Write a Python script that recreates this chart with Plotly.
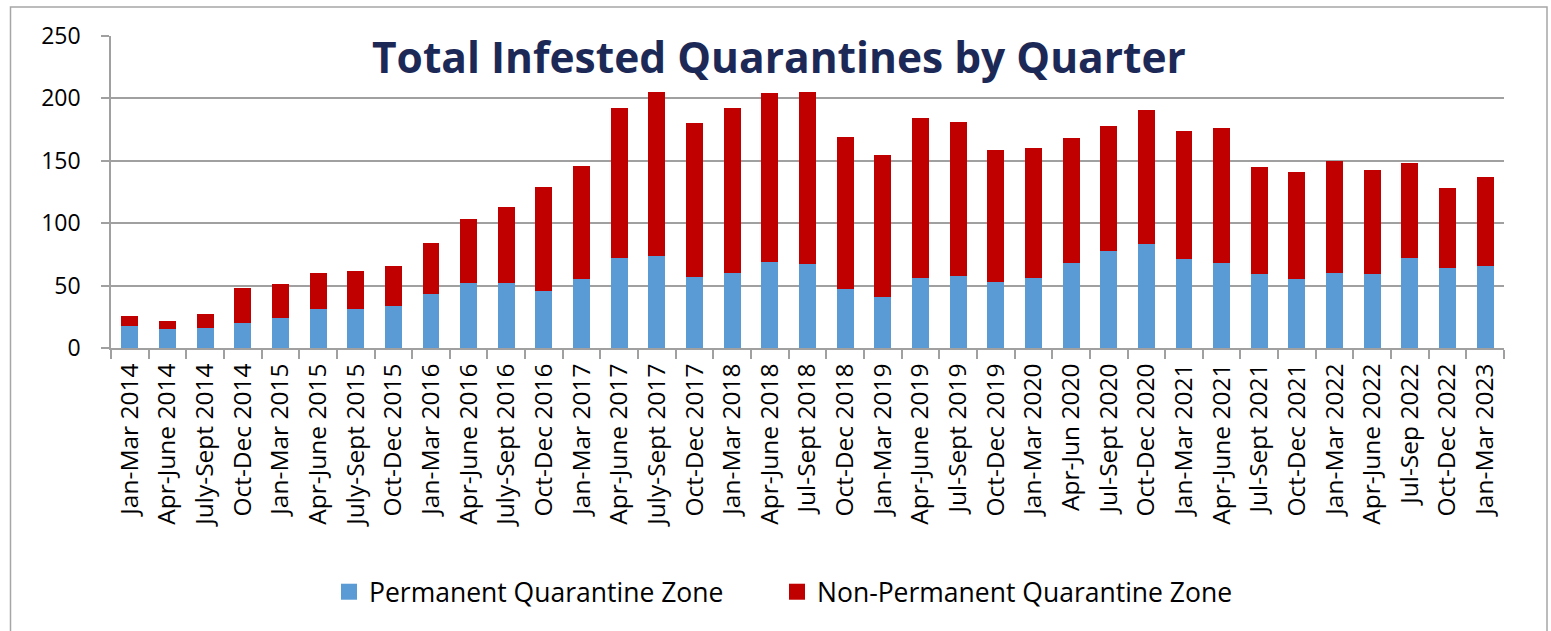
import plotly.graph_objects as go

quarters = ["Jan-Mar 2014", "Apr-June 2014", "July-Sept 2014", "Oct-Dec 2014",
            "Jan-Mar 2015", "Apr-June 2015", "July-Sept 2015", "Oct-Dec 2015",
            "Jan-Mar 2016", "Apr-June 2016", "July-Sept 2016", "Oct-Dec 2016",
            "Jan-Mar 2017", "Apr-June 2017", "July-Sept 2017", "Oct-Dec 2017",
            "Jan-Mar 2018", "Apr-June 2018", "Jul-Sept 2018", "Oct-Dec 2018",
            "Jan-Mar 2019", "Apr-June 2019", "Jul-Sept 2019", "Oct-Dec 2019",
            "Jan-Mar 2020", "Apr-Jun 2020", "Jul-Sept 2020", "Oct-Dec 2020",
            "Jan-Mar 2021", "Apr-June 2021", "Jul-Sept 2021", "Oct-Dec 2021",
            "Jan-Mar 2022", "Apr-June 2022", "Jul-Sep 2022", "Oct-Dec 2022",
            "Jan-Mar 2023"]

permanent = [18, 15, 16, 20, 24, 31, 31, 34, 43, 52, 52, 46, 55, 72, 74, 57, 60, 69, 67,
             47, 41, 56, 58, 53, 56, 68, 78, 83, 71, 68, 59, 55, 60, 59, 72, 64, 66]

non_permanent = [8, 7, 11, 28, 27, 29, 31, 32, 41, 51, 61, 83, 91, 120, 131, 123, 132, 135, 138,
                 122, 114, 128, 123, 106, 104, 100, 100, 108, 103, 108, 86, 86, 90, 84, 76, 64, 71]

y_ticks = [0, 50, 100, 150, 200, 250]

series_names = ["Permanent Quarantine Zone", "Non-Permanent Quarantine Zone"]
blue = "#5b9bd5"
red = "#c00000"

W, H = 1551, 631
# plot area in page coordinates
L, R, T, B = 111, 1504, 36, 348

pw = R - L
ph = B - T


def px_x(x):
    return (x - L) / pw


def px_y(y):
    return (B - y) / ph


fig = go.Figure()
fig.add_trace(go.Bar(x=quarters, y=permanent, name=series_names[0],
                     marker=dict(color=blue, line=dict(width=0)), showlegend=False))
fig.add_trace(go.Bar(x=quarters, y=non_permanent, name=series_names[1],
                     marker=dict(color=red, line=dict(width=0)), showlegend=False))
# legend entries
fig.add_trace(go.Scatter(x=[None], y=[None], mode="markers", name=series_names[0],
                         marker=dict(symbol="square", size=17, color=blue), legend="legend"))
fig.add_trace(go.Scatter(x=[None], y=[None], mode="markers", name=series_names[1],
                         marker=dict(symbol="square", size=17, color=red), legend="legend2"))

legend_style = dict(orientation="h", yanchor="middle", xanchor="left",
                    font=dict(family="Open Sans", size=26.5, color="#000000"),
                    bgcolor="rgba(0,0,0,0)")

fig.update_layout(
    width=W, height=H,
    margin=dict(l=L, r=W - R, t=T, b=H - B, autoexpand=False),
    barmode="stack",
    bargap=0.55,
    paper_bgcolor="white",
    plot_bgcolor="white",
    font=dict(family="Open Sans", size=23, color="#000000"),
    showlegend=True,
    legend=dict(x=px_x(329), y=px_y(592), **legend_style),
    legend2=dict(x=px_x(777), y=px_y(592), **legend_style),
    xaxis=dict(type="category", tickangle=-90, tickson="boundaries", ticks="outside",
               ticklen=9, tickcolor="#a0a0a0", tickwidth=1.5,
               showline=True, linecolor="#a0a0a0", linewidth=1.5,
               showgrid=False, tickfont=dict(family="Open Sans", size=24.5),
               ticklabelstandoff=4,
               range=[-0.5, len(quarters) - 0.5]),
    yaxis=dict(range=[0, 250], tickvals=y_ticks, ticks="outside", ticklen=8,
               tickcolor="#a0a0a0", tickwidth=1.5,
               showline=True, linecolor="#a0a0a0", linewidth=1.5,
               showgrid=True, gridcolor="#a0a0a0", gridwidth=1.5,
               zeroline=False, tickfont=dict(family="Open Sans", size=23),
               ticklabelstandoff=16),
    annotations=[dict(text="<b>Total Infested Quarantines by Quarter</b>",
                      xref="paper", yref="paper", x=px_x(779), y=px_y(57),
                      xanchor="center", yanchor="middle", showarrow=False,
                      font=dict(family="Open Sans", size=42.5, color="#1c2957"))],
    shapes=[dict(type="rect", xref="paper", yref="paper",
                 x0=px_x(10.5), x1=px_x(1547), y0=px_y(660), y1=px_y(7),
                 line=dict(color="#a6a6a6", width=1.5), fillcolor="rgba(0,0,0,0)",
                 layer="below")],
)

fig.write_html("out.html", config={"displayModeBar": False},
               post_script="document.body.style.margin='0';document.body.style.overflow='hidden';")
